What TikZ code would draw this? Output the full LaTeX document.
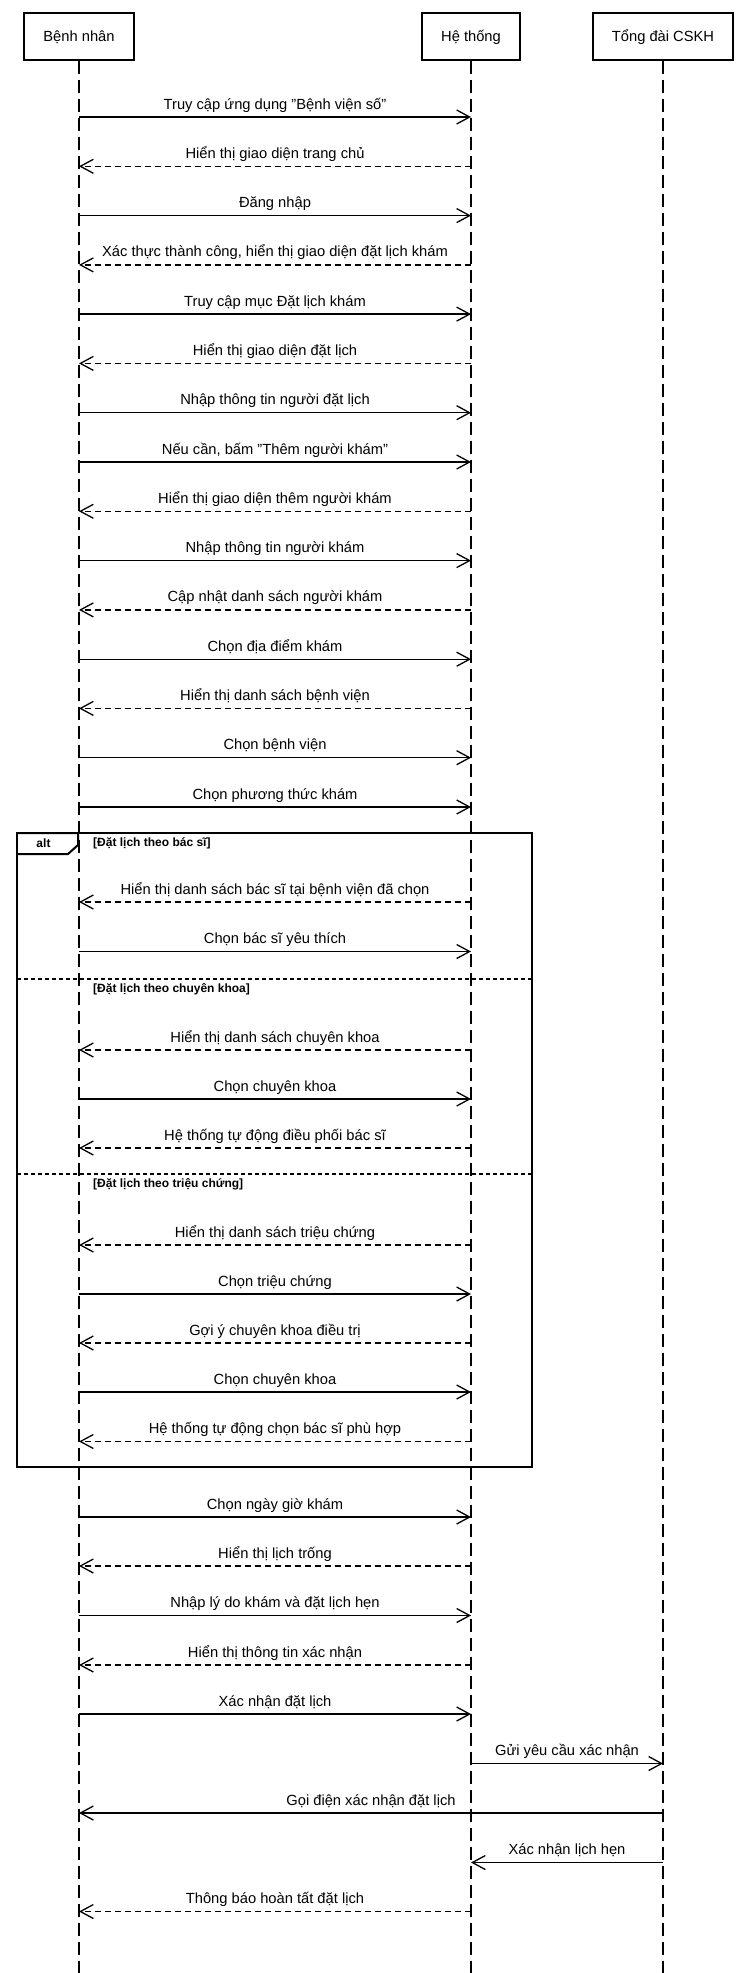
\documentclass[tikz,border=0pt]{standalone}
\usepackage{fontspec}
\setmainfont{Liberation Sans}
\usetikzlibrary{arrows.meta}
\newcommand\msgline[6]{%
  \coordinate (#5a) at (#2.center |- 0,#4);
  \coordinate (#5b) at (#3.center |- 0,#4);
  \draw[#1] (#5a) -- (#5b) node[midway, lbl] {#6};
}
\begin{document}
\begin{tikzpicture}[x=1pt,y=-1pt,
  actor/.style={draw, line width=2pt, minimum height=47pt, inner sep=0pt, text height=10.5pt, text depth=0pt, font=\fontsize{14.7}{17}\selectfont},
  life/.style={line width=1.3pt, dash pattern=on 13.3pt off 5.7pt},
  msg/.style={line width=1.3pt, -{Straight Barb[length=13pt,width=14pt]}},
  ret/.style={msg, dash pattern=on 6pt off 4pt},
  lbl/.style={font=\fontsize{14.7}{17}\selectfont, anchor=base, inner sep=0pt, yshift=8pt},
  frame/.style={draw, line width=2.5pt},
  tab/.style={draw, line width=2pt},
  divider/.style={line width=2.5pt, dash pattern=on 4pt off 3pt},
  guard/.style={font=\bfseries\fontsize{12}{14}\selectfont, anchor=base west, inner sep=0pt}
]
\useasboundingbox (0,0) rectangle (740,1973);
% actors
\node[actor, minimum width=110pt] (bn) at (79,36) {Bệnh nhân};
\node[actor, minimum width=98pt] (ht) at (471,36) {Hệ thống};
\node[actor, minimum width=140pt] (ck) at (663,36) {Tổng đài CSKH};
% lifelines
\coordinate (bnE) at (79,1973);
\coordinate (htE) at (471,1973);
\coordinate (ckE) at (663,1973);
\draw[life] (bn) -- (bnE);
\draw[life] (ht) -- (htE);
\draw[life] (ck) -- (ckE);
% alt frame
\coordinate (fA) at (17,833);
\coordinate (fB) at (532,1467);
\draw[frame] (fA) rectangle (fB);
\draw[tab] (17,833) -- (78,833) -- (78,845) -- (68,854) -- (17,854);
\node[guard, anchor=base] (altlbl) at (43.5,847) {alt};
\node[guard] (g1) at (93,846) {[Đặt lịch theo bác sĩ]};
\coordinate (d1a) at (17,979);
\coordinate (d1b) at (532,979);
\draw[divider] (d1a) -- (d1b);
\node[guard] (g2) at (93,992) {[Đặt lịch theo chuyên khoa]};
\coordinate (d2a) at (17,1174);
\coordinate (d2b) at (532,1174);
\draw[divider] (d2a) -- (d2b);
\node[guard] (g3) at (93,1187) {[Đặt lịch theo triệu chứng]};
% messages
\msgline{msg}{bn}{ht}{117}{m1}{Truy cập ứng dụng "Bệnh viện số"}
\msgline{ret}{ht}{bn}{166.3}{m2}{Hiển thị giao diện trang chủ}
\msgline{msg}{bn}{ht}{215.6}{m3}{Đăng nhập}
\msgline{ret}{ht}{bn}{264.9}{m4}{Xác thực thành công, hiển thị giao diện đặt lịch khám}
\msgline{msg}{bn}{ht}{314.1}{m5}{Truy cập mục Đặt lịch khám}
\msgline{ret}{ht}{bn}{363.4}{m6}{Hiển thị giao diện đặt lịch}
\msgline{msg}{bn}{ht}{412.7}{m7}{Nhập thông tin người đặt lịch}
\msgline{msg}{bn}{ht}{462}{m8}{Nếu cần, bấm "Thêm người khám"}
\msgline{ret}{ht}{bn}{511.3}{m9}{Hiển thị giao diện thêm người khám}
\msgline{msg}{bn}{ht}{560.6}{m10}{Nhập thông tin người khám}
\msgline{ret}{ht}{bn}{609.9}{m11}{Cập nhật danh sách người khám}
\msgline{msg}{bn}{ht}{659.2}{m12}{Chọn địa điểm khám}
\msgline{ret}{ht}{bn}{708.4}{m13}{Hiển thị danh sách bệnh viện}
\msgline{msg}{bn}{ht}{757.7}{m14}{Chọn bệnh viện}
\msgline{msg}{bn}{ht}{807}{m15}{Chọn phương thức khám}
\msgline{ret}{ht}{bn}{902}{m16}{Hiển thị danh sách bác sĩ tại bệnh viện đã chọn}
\msgline{msg}{bn}{ht}{951.5}{m17}{Chọn bác sĩ yêu thích}
\msgline{ret}{ht}{bn}{1050}{m18}{Hiển thị danh sách chuyên khoa}
\msgline{msg}{bn}{ht}{1099}{m19}{Chọn chuyên khoa}
\msgline{ret}{ht}{bn}{1148}{m20}{Hệ thống tự động điều phối bác sĩ}
\msgline{ret}{ht}{bn}{1245}{m21}{Hiển thị danh sách triệu chứng}
\msgline{msg}{bn}{ht}{1294}{m22}{Chọn triệu chứng}
\msgline{ret}{ht}{bn}{1343}{m23}{Gợi ý chuyên khoa điều trị}
\msgline{msg}{bn}{ht}{1392}{m24}{Chọn chuyên khoa}
\msgline{ret}{ht}{bn}{1441.5}{m25}{Hệ thống tự động chọn bác sĩ phù hợp}
\msgline{msg}{bn}{ht}{1517}{m26}{Chọn ngày giờ khám}
\msgline{ret}{ht}{bn}{1566}{m27}{Hiển thị lịch trống}
\msgline{msg}{bn}{ht}{1615.5}{m28}{Nhập lý do khám và đặt lịch hẹn}
\msgline{ret}{ht}{bn}{1665}{m29}{Hiển thị thông tin xác nhận}
\msgline{msg}{bn}{ht}{1714}{m30}{Xác nhận đặt lịch}
\msgline{msg}{ht}{ck}{1763.5}{m31}{Gửi yêu cầu xác nhận}
\msgline{msg}{ck}{bn}{1813}{m32}{Gọi điện xác nhận đặt lịch}
\msgline{msg}{ck}{ht}{1862.5}{m33}{Xác nhận lịch hẹn}
\msgline{ret}{ht}{bn}{1911.5}{m34}{Thông báo hoàn tất đặt lịch}
\end{tikzpicture}
\end{document}
